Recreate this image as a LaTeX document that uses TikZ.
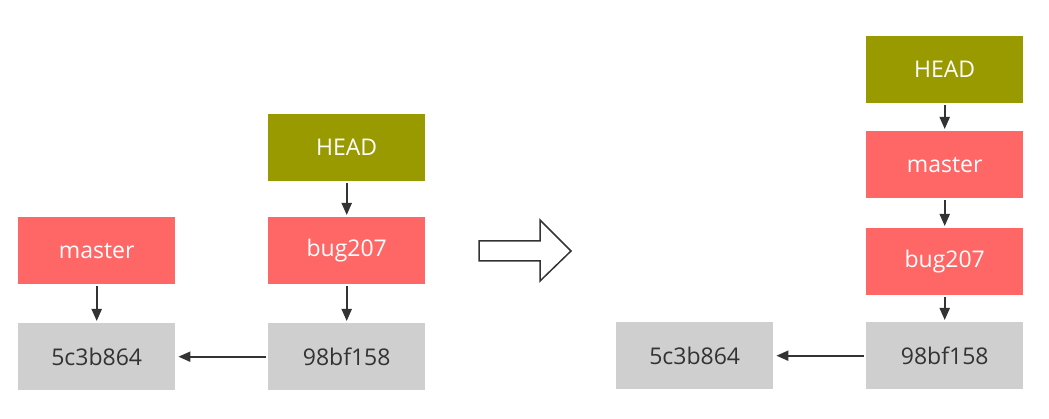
\documentclass[tikz,border=0pt]{standalone}
\usepackage{fontspec}
\setmainfont{Open Sans}
\usetikzlibrary{arrows.meta}
\definecolor{headc}{HTML}{999900}
\definecolor{brc}{HTML}{FF6666}
\definecolor{cmc}{HTML}{CFCFCF}
\definecolor{ink}{HTML}{333333}
\begin{document}
\begin{tikzpicture}[x=1pt,y=-1pt,
  box/.style={minimum width=157pt,minimum height=67pt,inner sep=0pt,font=\fontsize{23}{26}\selectfont,anchor=north west},
  headbox/.style={box,fill=headc,text=white},
  branch/.style={box,fill=brc,text=white},
  commit/.style={box,fill=cmc,text=ink},
  link/.style={draw=ink,line width=2pt,-{Triangle[length=12pt,width=10pt]}}]
\useasboundingbox (0,0) rectangle (1049,419);
% left
\node[headbox] (lhead) at (268,114) {HEAD};
\node[branch] (lmaster) at (18,217) {master};
\node[branch] (lbug) at (268,217) {bug207};
\node[commit] (lc1) at (18,323) {5c3b864};
\node[commit] (lc2) at (268,323) {98bf158};
\draw[link] ([yshift=-2pt]lhead.south) -- ([yshift=2pt]lbug.north);
\draw[link] ([yshift=-2pt]lmaster.south) -- ([yshift=2pt]lc1.north);
\draw[link] ([yshift=-2pt]lbug.south) -- ([yshift=2pt]lc2.north);
\draw[link] ([xshift=-2pt]lc2.west) -- ([xshift=3pt]lc1.east);
% big arrow
\draw[ink,line width=1.5pt,line join=miter] (479,241) -- (540,241) -- (540,220) -- (571,251) -- (540,281) -- (540,261) -- (479,261) -- cycle;
% right
\node[headbox] (rhead) at (866,36) {HEAD};
\node[branch] (rmaster) at (866,131) {master};
\node[branch] (rbug) at (866,228) {bug207};
\node[commit] (rc2) at (866,322) {98bf158};
\node[commit] (rc1) at (616,322) {5c3b864};
\draw[link] ([yshift=-2pt]rhead.south) -- ([yshift=2pt]rmaster.north);
\draw[link] ([yshift=-2pt]rmaster.south) -- ([yshift=2pt]rbug.north);
\draw[link] ([yshift=-2pt]rbug.south) -- ([yshift=2pt]rc2.north);
\draw[link] ([xshift=-2pt]rc2.west) -- ([xshift=3pt]rc1.east);
\end{tikzpicture}
\end{document}
